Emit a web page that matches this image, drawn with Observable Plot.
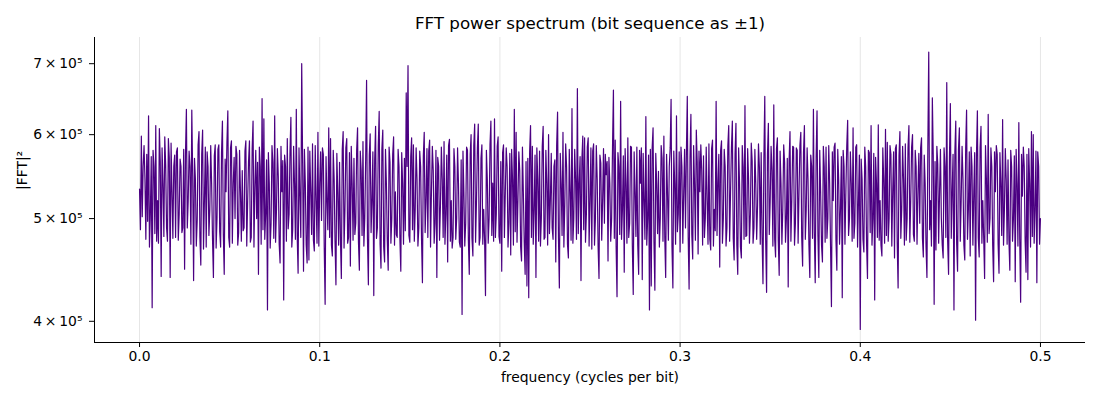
<!DOCTYPE html>
<html>
<head>
<meta charset="utf-8">
<script src="https://cdn.jsdelivr.net/npm/d3@7"></script>
<script src="https://cdn.jsdelivr.net/npm/@observablehq/plot@0.6"></script>
<style>
  html, body { margin: 0; padding: 0; background: #fff; }
  #chart { width: 1100px; height: 400px; }
  svg { font-family: "DejaVu Sans", sans-serif; }
</style>
</head>
<body>
<div id="chart"></div>
<script>
// Chart texts
const titleText = "FFT power spectrum (bit sequence as ±1)";
const xLabel = "frequency (cycles per bit)";
const yLabel = "|FFT|²";

// Tick values
const xTicks = [0.0, 0.1, 0.2, 0.3, 0.4, 0.5];
const yTicks = [400000, 500000, 600000, 700000];

// Frequency bin spacing (cycles per bit) and power values (in thousands)
const binStep = 0.0005;
const powerK = [
  533, 488, 598, 502, 560, 586, 545, 478, 575, 497, 625, 470, 505, 572, 412, 580, 560, 484, 612, 476,
  520, 474, 608, 566, 441, 583, 540, 481, 597, 562, 490, 476, 595, 571, 440, 589, 530, 479, 560, 574,
  480, 578, 583, 477, 505, 569, 560, 485, 490, 581, 448, 576, 634, 490, 520, 579, 560, 473, 633, 549,
  437, 570, 545, 471, 498, 587, 604, 480, 452, 575, 606, 468, 520, 584, 470, 578, 560, 482, 510, 586,
  540, 478, 440, 573, 587, 469, 500, 581, 587, 486, 470, 577, 618, 483, 443, 569, 530, 590, 632, 480,
  470, 583, 592, 474, 540, 571, 500, 585, 575, 472, 485, 580, 530, 476, 555, 487, 490, 579, 592, 471,
  520, 566, 592, 475, 480, 582, 618, 470, 535, 580, 500, 565, 443, 584, 560, 473, 649, 488, 621, 478,
  505, 568, 410, 577, 540, 469, 495, 586, 565, 479, 625, 475, 510, 582, 548, 473, 454, 585, 530, 567,
  419, 574, 560, 476, 595, 489, 505, 578, 623, 470, 488, 585, 540, 478, 634, 481, 444, 583, 525, 480,
  700, 567, 446, 581, 540, 472, 454, 584, 457, 579, 530, 483, 588, 477, 466, 586, 520, 474, 603, 471,
  540, 578, 498, 583, 575, 470, 415, 572, 520, 488, 609, 480, 595, 472, 461, 580, 545, 475, 433, 576,
  530, 472, 565, 478, 439, 581, 604, 469, 510, 583, 595, 474, 480, 577, 451, 585, 540, 477, 570, 483,
  495, 580, 609, 475, 447, 579, 555, 482, 591, 471, 500, 569, 675, 478, 433, 574, 601, 485, 520, 578,
  423, 568, 611, 479, 490, 586, 631, 473, 449, 582, 606, 470, 455, 581, 540, 476, 447, 584, 565, 474,
  500, 575, 597, 472, 530, 483, 480, 581, 560, 478, 446, 577, 540, 473, 570, 487, 657, 560, 697, 482,
  475, 572, 596, 488, 587, 476, 510, 583, 545, 471, 490, 579, 560, 478, 435, 573, 603, 485, 520, 582,
  480, 579, 593, 470, 530, 585, 555, 474, 495, 580, 440, 571, 560, 477, 515, 584, 545, 480, 591, 473,
  505, 574, 455, 586, 594, 476, 520, 469, 480, 582, 560, 478, 500, 583, 540, 475, 470, 568, 406, 579,
  530, 471, 495, 584, 580, 477, 443, 575, 600, 479, 461, 586, 614, 475, 520, 583, 614, 472, 480, 570,
  587, 473, 510, 478, 423, 580, 545, 474, 500, 587, 618, 482, 540, 476, 621, 480, 505, 585, 597, 481,
  474, 566, 446, 577, 587, 480, 530, 583, 560, 470, 495, 576, 462, 581, 545, 472, 634, 486, 603, 475,
  520, 578, 555, 470, 456, 584, 530, 475, 443, 566, 432, 570, 421, 578, 612, 480, 585, 473, 510, 574,
  440, 583, 545, 476, 579, 471, 500, 585, 611, 478, 480, 580, 540, 472, 600, 484, 520, 576, 490, 478,
  560, 568, 455, 586, 630, 479, 430, 576, 540, 482, 603, 470, 515, 588, 560, 473, 459, 581, 530, 477,
  635, 474, 500, 581, 545, 478, 663, 484, 540, 572, 437, 569, 598, 488, 596, 475, 505, 584, 596, 471,
  520, 583, 468, 579, 588, 472, 500, 586, 545, 470, 439, 574, 564, 477, 520, 582, 495, 575, 550, 566,
  456, 571, 540, 476, 500, 584, 661, 479, 593, 470, 422, 577, 560, 483, 645, 478, 510, 573, 445, 582,
  540, 474, 596, 480, 495, 585, 584, 471, 424, 578, 530, 481, 584, 472, 443, 580, 540, 583, 438, 576,
  520, 478, 624, 472, 500, 574, 410, 581, 432, 583, 609, 475, 428, 576, 540, 484, 554, 470, 500, 586,
  570, 476, 598, 480, 440, 575, 530, 477, 560, 583, 648, 470, 430, 579, 540, 473, 625, 486, 505, 578,
  465, 584, 560, 474, 530, 581, 490, 577, 652, 480, 429, 572, 627, 483, 458, 586, 540, 477, 606, 566,
  463, 579, 530, 587, 555, 472, 573, 480, 500, 584, 520, 473, 588, 478, 467, 582, 593, 471, 510, 487,
  645, 482, 540, 575, 450, 580, 592, 474, 500, 581, 560, 471, 490, 585, 612, 476, 530, 583, 618, 479,
  457, 575, 615, 472, 443, 583, 540, 470, 459, 586, 560, 478, 639, 481, 482, 582, 545, 474, 505, 589,
  567, 474, 490, 581, 540, 478, 515, 588, 560, 473, 577, 480, 434, 569, 652, 477, 426, 575, 615, 483,
  520, 585, 555, 471, 640, 478, 460, 582, 596, 476, 442, 579, 540, 473, 510, 587, 565, 475, 500, 570,
  431, 567, 604, 476, 520, 585, 584, 472, 495, 583, 580, 474, 530, 586, 603, 480, 451, 577, 612, 478,
  510, 583, 545, 472, 440, 574, 560, 479, 634, 485, 435, 571, 632, 482, 440, 580, 530, 472, 455, 585,
  560, 475, 584, 479, 500, 586, 540, 471, 413, 578, 520, 584, 589, 477, 447, 581, 545, 473, 510, 572,
  421, 580, 560, 473, 530, 585, 619, 482, 500, 578, 540, 476, 609, 479, 495, 584, 587, 470, 520, 574,
  393, 569, 545, 478, 465, 584, 560, 473, 439, 580, 577, 485, 612, 472, 500, 576, 419, 571, 540, 480,
  613, 477, 520, 472, 461, 583, 545, 474, 607, 482, 590, 476, 500, 586, 575, 471, 530, 578, 459, 582,
  587, 474, 430, 573, 604, 479, 510, 585, 545, 472, 588, 477, 500, 583, 612, 475, 520, 584, 600, 483,
  476, 580, 560, 473, 530, 576, 495, 583, 596, 479, 460, 574, 540, 470, 440, 584, 718, 488, 520, 471,
  650, 574, 415, 566, 467, 585, 563, 474, 530, 581, 500, 472, 459, 583, 560, 480, 672, 476, 443, 571,
  642, 479, 530, 575, 410, 578, 618, 473, 446, 581, 609, 476, 520, 585, 545, 472, 457, 583, 633, 478,
  510, 578, 461, 584, 560, 472, 530, 577, 401, 575, 632, 479, 460, 583, 611, 474, 520, 480, 439, 586,
  545, 475, 627, 484, 500, 583, 560, 471, 436, 578, 530, 586, 575, 473, 444, 577, 540, 482, 620, 472,
  510, 582, 545, 473, 568, 477, 447, 580, 560, 476, 500, 573, 436, 581, 540, 471, 616, 478, 417, 575,
  525, 584, 560, 476, 445, 575, 438, 582, 540, 470, 604, 481, 600, 474, 510, 579, 435, 578, 560, 473,
  500
];

const data = powerK.map((p, i) => ({ f: i * binStep, p: p * 1000 }));

const xDomain = [-0.025, 0.525];
const yDomain = [382000, 741000];

const sup5 = "\u2075";
const chart = Plot.plot({
  width: 1100,
  height: 400,
  marginLeft: 94,
  marginRight: 15,
  marginTop: 37,
  marginBottom: 58,
  style: { fontFamily: "DejaVu Sans, sans-serif", fontSize: "13.9px", color: "#000", background: "#fff" },
  x: { domain: xDomain, label: null },
  y: { type: "log", domain: yDomain, label: null },
  marks: [
    Plot.gridX(xTicks, { stroke: "#e6e6e6", strokeOpacity: 1, strokeWidth: 1 }),
    Plot.lineY(data, { x: "f", y: "p", stroke: "#4b0082", strokeWidth: 1.2 }),
    Plot.ruleX([xDomain[0]], { stroke: "#000", strokeWidth: 1 }),
    Plot.ruleY([yDomain[0]], { stroke: "#000", strokeWidth: 1 }),
    Plot.axisX(xTicks, { tickFormat: d3.format(".1f"), tickSize: 5, tickPadding: 4, fontSize: 13.9, label: null }),
    Plot.axisY(yTicks, { tickFormat: d => `${d / 1e5}\u2009×\u200910${sup5}`, tickSize: 5, tickPadding: 7, fontSize: 13.9, label: null }),
    Plot.text([titleText], { frameAnchor: "top", dy: -14, fontSize: 16.7, lineAnchor: "middle", fill: "#000" }),
    Plot.text([xLabel], { frameAnchor: "bottom", dy: 35, fontSize: 13.9, lineAnchor: "middle", fill: "#000" }),
    Plot.text([yLabel], { frameAnchor: "left", dx: -72, rotate: -90, fontSize: 13.9, lineAnchor: "middle", fill: "#000" })
  ]
});
document.getElementById("chart").appendChild(chart);
</script>
</body>
</html>
